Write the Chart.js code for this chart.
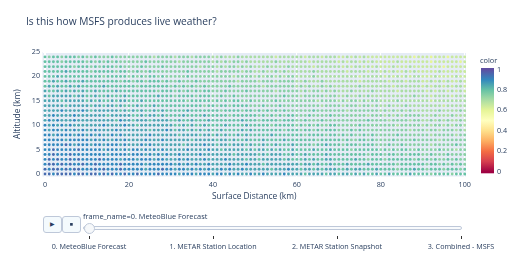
<!DOCTYPE html>
<html>
<head>
<meta charset="utf-8">
<script src="https://cdn.jsdelivr.net/npm/chart.js@4/dist/chart.umd.min.js"></script>
<style>
html,body{margin:0;padding:0;background:#fff;}
#wrap{position:relative;width:517px;height:258px;overflow:hidden;font-family:"Open Sans",sans-serif;color:#2a3f5f;}
#c{position:absolute;left:0;top:0;}
.btn{position:absolute;top:216px;height:17px;border:1px solid #bec8d9;border-radius:3px;background:#f4fafd;box-sizing:border-box;display:flex;align-items:center;justify-content:center;font-size:5.5px;color:#2a3f5f;line-height:1;}
#curval{position:absolute;left:83px;top:211px;font-size:7.4px;white-space:nowrap;line-height:10px;}
#rail{position:absolute;left:83px;top:226px;width:379px;height:4px;border:1px solid #bec8d9;border-radius:2px;background:#f8fafc;box-sizing:border-box;}
#grip{position:absolute;left:83.5px;top:222.5px;width:11px;height:11px;border:1px solid #bec8d9;border-radius:50%;background:#f6f8fa;box-sizing:border-box;}
.tick{position:absolute;top:236px;width:1px;height:3px;background:#333;}
.flabel{position:absolute;top:241px;font-size:7.2px;white-space:nowrap;transform:translateX(-50%);line-height:10px;}
</style>
</head>
<body>
<div id="wrap">
<canvas id="c" width="517" height="258" style="width:517px;height:258px"></canvas>
<div class="btn" style="left:43px;width:19px;">&#9654;</div>
<div class="btn" style="left:62px;width:19px;">&#9632;</div>
<div id="curval"></div>
<div id="rail"></div>
<div id="grip"></div>
<div id="slider"></div>
</div>
<script>
// ---------------- data ----------------
const chartTitle = "Is this how MSFS produces live weather?";
const xAxisTitle = "Surface Distance (km)";
const yAxisTitle = "Altitude (km)";
const colorbarTitle = "color";
const frameNames = ["0. MeteoBlue Forecast", "1. METAR Station Location", "2. METAR Station Snapshot", "3. Combined - MSFS"];
const currentFrameLabel = "frame_name=0. MeteoBlue Forecast";
const xTickValues = [0, 20, 40, 60, 80, 100];
const yTickValues = [0, 5, 10, 15, 20, 25];
const colorbarTicks = [0, 0.2, 0.4, 0.6, 0.8, 1];
const distanceKm = [0,1,2,3,4,5,6,7,8,9,10,11,12,13,14,15,16,17,18,19,20,21,22,23,24,25,26,27,28,29,30,31,32,33,34,35,36,37,38,39,40,41,42,43,44,45,46,47,48,49,50,51,52,53,54,55,56,57,58,59,60,61,62,63,64,65,66,67,68,69,70,71,72,73,74,75,76,77,78,79,80,81,82,83,84,85,86,87,88,89,90,91,92,93,94,95,96,97,98,99,100];
const altitudeKm = [0,1,2,3,4,5,6,7,8,9,10,11,12,13,14,15,16,17,18,19,20,21,22,23,24];
// digit code -> colour value
const colorLevels = [0.50, 0.55, 0.60, 0.65, 0.70, 0.75, 0.80, 0.85, 0.90, 0.95];
// one string per altitude row (0 km first), one digit per km of distance
const colorRows = [
"9989999899 8998989889 8898888988 8878887888 7887878778 7787777877 7767777677 6776767667 6676666766 6656666566 6",
"9899898998 8898988898 8888788898 8788787878 7787877877 7777677787 7677676777 6676776667 6666566676 6566656665 6",
"8998989889 8898888898 8888788888 8787878778 7777877787 7767777777 7677676676 6676666766 6666566666 6566565656 5",
"8989889898 8889888878 8878887887 7787877787 7778777767 7677777676 6676766776 6666766566 6566666656 5656556565 5",
"8898889888 8888878888 7888787878 7787777877 7777767777 7676777667 6676666766 6666666566 6566565666 5565556555 5",
"8898888898 8888788878 7887878787 7777877778 7767777767 6776767667 6666766676 6665666666 5656566556 5555655545 5",
"8888898788 8788788878 7778787777 7776777787 7677677767 6676676667 6666566766 6566656665 5565565555 5545555565 5",
"8888878888 8787877878 7777877787 7777767777 7677676676 6676666766 6666656666 6565566565 5556555565 5555455555 5",
"8878888788 7878778787 7777787777 7767777677 6767667676 6666766666 6656666566 5656556565 5555655555 5545555545 5",
"8788787878 7787777877 7777767778 7677676767 6676666767 6666666566 6566565666 5556565555 5555555455 5455455545 4",
"8787878777 7777877778 7767777777 7667676676 6667666676 6666566666 5656565566 5555565555 5555455555 4545545455 4",
"7878777877 7777777687 7677767777 6676676667 6666666766 6566665666 5565556555 5555555655 5545555455 4454545445 4",
"7787777877 7777767777 7667677676 6667666676 6666566666 6565656566 5556555565 5555555455 5454545555 4445444544 4",
"7777877778 7677777767 6767667676 6666766666 6656666566 5656565655 5555655555 5545555555 4545454544 4444544445 4",
"7777767777 7677677676 6676667666 6666666656 6566566665 5565556555 5555554555 5455545545 4454445444 4444434444 4",
"7777677777 6767667677 6667666666 6666566666 5656566556 5555565555 5555545555 4545545455 4444544444 4434444444 4",
"7677777677 6676676667 6666666766 6566665666 5565565555 5555555655 5455555455 4454454544 4444444454 4434444344 4",
"7667676767 6676666766 6666666566 6565656566 5556555565 5555545555 5454554545 4445444454 4444344444 4343443434 3",
"6767667676 6666766666 6656666666 5656565565 5555655555 5545555555 4545445454 4444454444 4443444444 3434434344 3",
"6676676667 6666666656 6566566656 5565556555 5555554555 5455545555 4454445444 4444434444 4434443444 3343434334 3",
"6667666666 6666566666 5656566565 5555655555 5555545555 4545545455 4444544444 4444434444 4343434344 3334333343 3",
"6666676666 6566666566 5565565555 5555655555 5455555455 4454454544 4444544444 4434444344 3434334343 3333433333 3",
"6666666566 6565666565 5556555565 5555555455 5454554545 4445444454 4444344444 4343443434 3334333433 3333323333 3",
"6666566666 5656565655 5555655555 5545555555 4545455454 4444454444 4443444444 3434434343 3333433333 3323333332 3",
"6566566656 5565556555 5555554555 5455545555 4454445444 4444434444 4434443444 3343434333 3333333323 3323332333 3"
];
// Plotly "Spectral" colour scale
const spectralScale = [
  [0, [158,1,66]], [0.1, [213,62,79]], [0.2, [244,109,67]], [0.3, [253,174,97]],
  [0.4, [254,224,139]], [0.5, [255,255,191]], [0.6, [230,245,152]], [0.7, [171,221,164]],
  [0.8, [102,194,165]], [0.9, [50,136,189]], [1, [94,79,162]]
];

// ---------------- build ----------------
function scaleColor(v) {
  for (let i = 1; i < spectralScale.length; i++) {
    const [p1, c1] = spectralScale[i];
    const [p0, c0] = spectralScale[i - 1];
    if (v <= p1) {
      const t = (v - p0) / (p1 - p0);
      const c = c0.map((a, k) => Math.round(a + (c1[k] - a) * t));
      return `rgb(${c[0]},${c[1]},${c[2]})`;
    }
  }
  const c = spectralScale[spectralScale.length - 1][1];
  return `rgb(${c[0]},${c[1]},${c[2]})`;
}

const points = [];
const pointColors = [];
altitudeKm.forEach((alt, i) => {
  const row = colorRows[i].replace(/ /g, '');
  distanceKm.forEach((d, j) => {
    if (j >= row.length) return;
    const v = colorLevels[+row[j]];
    points.push({x: d, y: alt, v: v});
    pointColors.push(scaleColor(v));
  });
});

// HTML slider parts
document.getElementById('curval').textContent = currentFrameLabel;
const railLeft = 89, railRight = 461;
const sl = document.getElementById('slider');
frameNames.forEach((name, i) => {
  const x = railLeft + (railRight - railLeft) * i / (frameNames.length - 1);
  const t = document.createElement('div');
  t.className = 'tick'; t.style.left = (x - 0.5) + 'px';
  sl.appendChild(t);
  const l = document.createElement('div');
  l.className = 'flabel'; l.style.left = x + 'px'; l.textContent = name;
  sl.appendChild(l);
});

const FONT = '"Open Sans", "Liberation Sans", sans-serif';
const TEXT = '#2a3f5f';

const bgPlugin = {
  id: 'bg',
  beforeDraw(chart) {
    const a = chart.chartArea, ctx = chart.ctx;
    ctx.save();
    ctx.fillStyle = '#E5ECF6';
    ctx.fillRect(a.left, a.top, a.right - a.left, a.bottom - a.top);
    ctx.restore();
  }
};
const titlePlugin = {
  id: 'ptitle',
  afterDraw(chart) {
    const ctx = chart.ctx;
    ctx.save();
    ctx.font = '10.2px ' + FONT;
    ctx.fillStyle = TEXT;
    ctx.textBaseline = 'middle';
    ctx.textAlign = 'left';
    ctx.fillText(chartTitle, 26, 22);
    ctx.restore();
  }
};
const colorbarPlugin = {
  id: 'cbar',
  afterDraw(chart) {
    const ctx = chart.ctx;
    const x0 = 481, w = 13, yTop = 69.5, yBot = 171.8;
    ctx.save();
    const g = ctx.createLinearGradient(0, yBot, 0, yTop);
    spectralScale.forEach(([p, c]) => g.addColorStop(p, `rgb(${c[0]},${c[1]},${c[2]})`));
    ctx.fillStyle = g;
    ctx.fillRect(x0, yTop - 1.5, w, (yBot - yTop) + 3);
    ctx.font = '7.2px ' + FONT;
    ctx.fillStyle = TEXT;
    ctx.textBaseline = 'middle';
    ctx.textAlign = 'left';
    colorbarTicks.forEach(t => {
      const y = yBot - (yBot - yTop) * t;
      ctx.fillText(String(t), 497, y);
    });
    ctx.font = '7.4px ' + FONT;
    ctx.fillText(colorbarTitle, 480, 61);
    ctx.restore();
  }
};

new Chart(document.getElementById('c'), {
  type: 'scatter',
  data: {
    datasets: [{
      data: points,
      backgroundColor: pointColors,
      borderWidth: 0,
      pointRadius: 1.45,
      pointHoverRadius: 1.45
    }]
  },
  options: {
    responsive: false,
    animation: false,
    devicePixelRatio: 1,
    events: [],
    layout: {padding: {left: 0, right: 51, top: 52, bottom: 53.5}},
    plugins: {legend: {display: false}, tooltip: {enabled: false}, title: {display: false}},
    scales: {
      x: {
        type: 'linear', min: -0.6, max: 100.3,
        afterFit(s) { s.height = 28; },
        afterBuildTicks(s) { s.ticks = xTickValues.map(v => ({value: v})); },
        ticks: {padding: 4, maxRotation: 0, autoSkip: false, color: TEXT, font: {family: FONT, size: 7.2}},
        grid: {color: '#ffffff', lineWidth: c => (c.tick && c.tick.value === 0) ? 2 : 1, drawTicks: false},
        border: {display: false},
        title: {display: true, text: xAxisTitle, color: TEXT, font: {family: FONT, size: 8.4}, padding: {top: 0, bottom: 2.4}}
      },
      y: {
        type: 'linear', min: -0.5, max: 25,
        afterFit(s) { s.width = 42.5; },
        afterBuildTicks(s) { s.ticks = yTickValues.map(v => ({value: v})); },
        ticks: {padding: 2.5, autoSkip: false, color: TEXT, font: {family: FONT, size: 7.2}},
        grid: {color: '#ffffff', lineWidth: c => (c.tick && c.tick.value === 0) ? 2 : 1, drawTicks: false},
        border: {display: false},
        title: {display: true, text: yAxisTitle, color: TEXT, font: {family: FONT, size: 8.4}, padding: {top: 12.9, bottom: 0}}
      }
    }
  },
  plugins: [bgPlugin, titlePlugin, colorbarPlugin]
});
</script>
</body>
</html>
